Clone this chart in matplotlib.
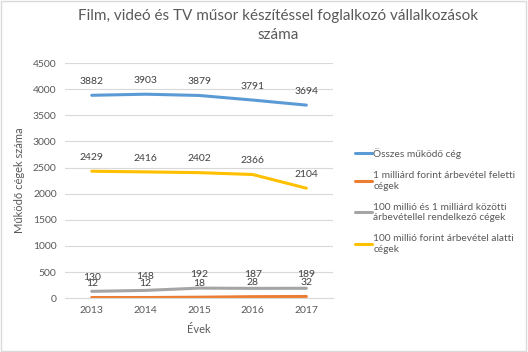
import matplotlib
matplotlib.use("Agg")
import matplotlib.pyplot as plt
from matplotlib.patches import Rectangle

plt.rcParams['font.family'] = ['Lato', 'DejaVu Sans']

years = ["2013", "2014", "2015", "2016", "2017"]
osszes = [3882, 3903, 3879, 3791, 3694]
milliard_felett = [12, 12, 18, 28, 32]
kozotti = [130, 148, 192, 187, 189]
alatti = [2429, 2416, 2402, 2366, 2104]

labels = ["Összes működő cég",
          "1 milliárd forint árbevétel feletti\ncégek",
          "100 millió és 1 milliárd közötti\nárbevétellel rendelkező cégek",
          "100 millió forint árbevétel alatti\ncégek"]
colors = ["#5B9BD5", "#ED7D31", "#A5A5A5", "#FFC000"]
series = [osszes, milliard_felett, kozotti, alatti]

fig = plt.figure(figsize=(5.28, 3.52), dpi=100)
ax = fig.add_axes([0.123, 0.153, 0.508, 0.668])

x = list(range(len(years)))
for vals, col, lab in zip(series, colors, labels):
    ax.plot(x, vals, color=col, lw=2.2, label=lab, solid_capstyle='round')
    for xi, v in zip(x, vals):
        ax.annotate(str(v), (xi, v), xytext=(0, 10), textcoords="offset points",
                    ha="center", va="center", fontsize=7.5, color="#404040")

ax.set_xlim(-0.5, 4.5)
ax.set_ylim(0, 4500)
ax.set_yticks(range(0, 4501, 500))
ax.set_xticks(x)
ax.set_xticklabels(years)
ax.grid(axis="y", color="#D9D9D9", lw=0.8)
ax.set_axisbelow(True)
for s in ["top", "right", "left"]:
    ax.spines[s].set_visible(False)
ax.spines["bottom"].set_color("#D9D9D9")
ax.tick_params(length=0, labelsize=7.5, labelcolor="#595959", pad=6)
ax.set_xlabel("Évek", fontsize=8, color="#595959", labelpad=6)
ax.set_ylabel("Működő cégek száma", fontsize=8, color="#595959", labelpad=6)

fig.suptitle("Film, videó és TV műsor készítéssel foglalkozó vállalkozások\nszáma",
             x=0.527, y=0.975, fontsize=11, color="#595959", linespacing=1.45)

fig.legend(loc="upper left", bbox_to_anchor=(0.655, 0.605), frameon=False,
           fontsize=7.3, handlelength=1.7, handletextpad=0.1, labelspacing=1.2,
           labelcolor="#595959")

fig.patches.append(Rectangle((0.002, 0.003), 0.995, 0.993, transform=fig.transFigure,
                             fill=False, edgecolor="#D9D9D9", lw=1))

fig.savefig("out.png", dpi=100)
